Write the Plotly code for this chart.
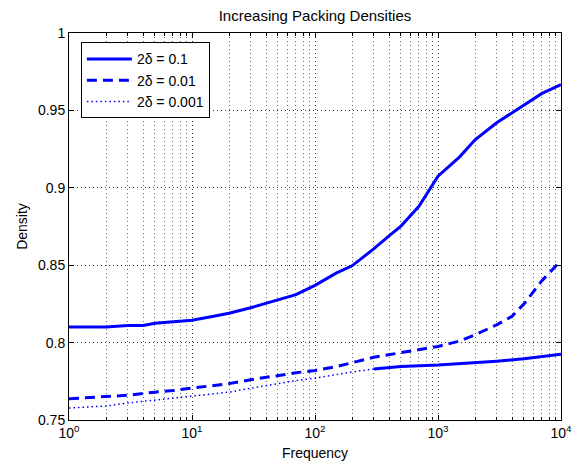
import plotly.graph_objects as go

# ---- data ----
x_a = [1, 2, 3, 4, 5, 7, 10, 15, 20, 30, 50, 70, 100, 150, 200, 300, 400, 500, 700,
       1000, 1500, 2000, 3000, 5000, 7000, 10000]
y_a = [0.810, 0.810, 0.811, 0.811, 0.8125, 0.8135, 0.8145, 0.817, 0.819, 0.8225, 0.8275,
       0.831, 0.837, 0.845, 0.8496, 0.8605, 0.869, 0.8753, 0.888,
       0.9075, 0.920, 0.931, 0.942, 0.9537, 0.961, 0.9666]

x_b = [1, 2, 3, 5, 7, 10, 20, 30, 50, 70, 100, 150, 200, 300, 500, 700, 1000,
       1500, 2000, 3000, 4000, 5000, 7000, 10000]
y_b = [0.7637, 0.765, 0.766, 0.768, 0.769, 0.7706, 0.7735, 0.776, 0.779, 0.7805, 0.782,
       0.7845, 0.787, 0.7905, 0.7935, 0.7955, 0.7975, 0.801, 0.805, 0.8115, 0.817,
       0.825, 0.840, 0.853]

x_c = [1, 2, 3, 5, 7, 10, 20, 30, 50, 70, 100, 150, 200, 300, 500, 1000, 2000, 3000,
       5000, 7000, 10000]
y_c = [0.7577, 0.759, 0.761, 0.763, 0.764, 0.7654, 0.768, 0.7705, 0.7735, 0.7755, 0.777,
       0.7795, 0.781, 0.783, 0.7845, 0.7855, 0.787, 0.788, 0.7895, 0.791, 0.7925]

names = ["2δ = 0.1", "2δ = 0.01", "2δ = 0.001"]
x_ticks = [1, 10, 100, 1000, 10000]
x_ticktext = ["10<sup>0</sup>", "10<sup>1</sup>", "10<sup>2</sup>", "10<sup>3</sup>", "10<sup>4</sup>"]
y_ticks = [0.75, 0.8, 0.85, 0.9, 0.95, 1]
y_ticktext = ["0.75", "0.8", "0.85", "0.9", "0.95", "1"]

BLUE = "#0000FF"
FONT = "Liberation Sans, Arial, Helvetica, sans-serif"
GRID_DASH = "1px,3px"

fig = go.Figure()
fig.add_trace(go.Scatter(x=x_a, y=y_a, mode="lines", name=names[0],
                         line=dict(color=BLUE, width=3)))
fig.add_trace(go.Scatter(x=x_b, y=y_b, mode="lines", name=names[1],
                         line=dict(color=BLUE, width=3, dash="10px,6px")))
fig.add_trace(go.Scatter(x=x_c, y=y_c, mode="lines", name=names[2],
                         line=dict(color=BLUE, width=1.5, dash="1.5px,3px")))
# dense, noisy part of the 0.001 series renders as a thick band
dense = [(x, y) for x, y in zip(x_c, y_c) if x >= 300]
fig.add_trace(go.Scatter(x=[p[0] for p in dense], y=[p[1] for p in dense], mode="lines",
                         showlegend=False, hoverinfo="skip",
                         line=dict(color=BLUE, width=3)))

axis_common = dict(
    showline=True, linecolor="black", linewidth=1, mirror="ticks",
    ticks="inside", ticklen=5, tickcolor="black",
    tickfont=dict(family=FONT, size=14, color="black"),
    showgrid=True, gridcolor="#333333", griddash=GRID_DASH, gridwidth=1,
    zeroline=False, ticklabeloverflow="allow",
)

fig.update_xaxes(type="log", range=[0, 4], tickvals=x_ticks, ticktext=x_ticktext,
                 title=dict(text="Frequency", font=dict(family=FONT, size=14, color="black"),
                            standoff=8),
                 minor=dict(dtick="D1", ticks="inside", ticklen=3, tickcolor="black",
                            showgrid=True, gridcolor="#666666", griddash=GRID_DASH),
                 **axis_common)
fig.update_yaxes(range=[0.75, 1], tickvals=y_ticks, ticktext=y_ticktext,
                 title=dict(text="Density", font=dict(family=FONT, size=14, color="black"),
                            standoff=7),
                 **axis_common)

fig.update_layout(
    width=584, height=471,
    margin=dict(l=69, r=18, t=33, b=47),
    paper_bgcolor="white", plot_bgcolor="white",
    font=dict(family=FONT, size=14, color="black"),
    title=dict(text="Increasing Packing Densities", x=0.5, xref="paper", xanchor="center",
               yref="container", y=1 - 16 / 471, yanchor="middle",
               font=dict(family=FONT, size=15, color="black")),
    legend=dict(x=(81 - 69) / 497, y=(424 - 42.5) / 391, xanchor="left", yanchor="top",
                bgcolor="white", bordercolor="black", borderwidth=1,
                font=dict(family=FONT, size=14, color="black"),
                tracegroupgap=0, itemwidth=45),
    showlegend=True,
)

fig.write_html(
    "out.html",
    config={"displayModeBar": False},
    post_script=(
        "document.documentElement.style.margin='0';"
        "document.documentElement.style.padding='0';"
        "document.documentElement.style.overflow='hidden';"
        "document.body.style.margin='0';"
        "document.body.style.padding='0';"
        "document.body.style.overflow='hidden';"
    ),
)
